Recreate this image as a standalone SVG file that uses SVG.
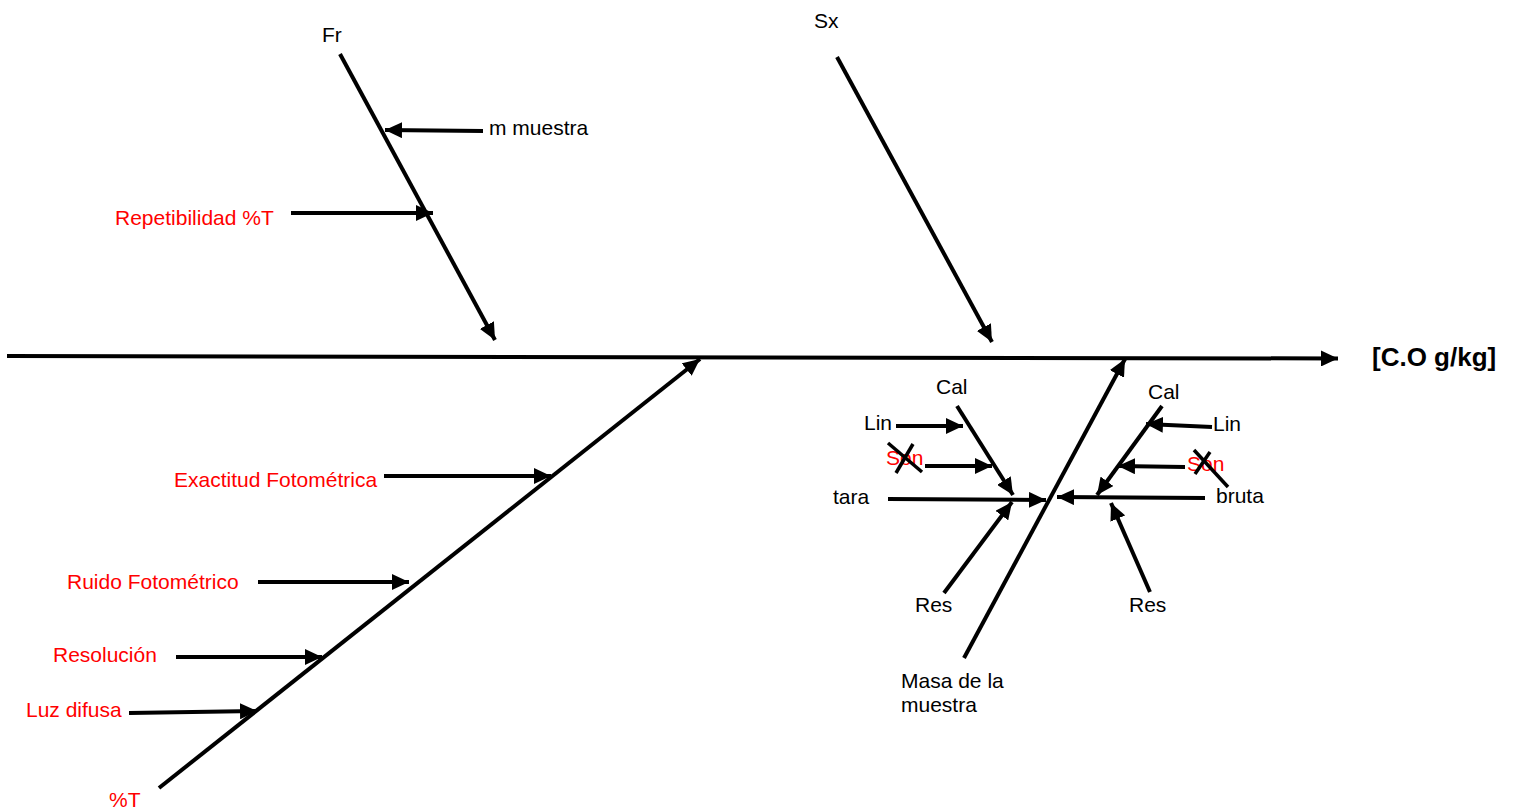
<svg xmlns="http://www.w3.org/2000/svg" width="1514" height="811" viewBox="0 0 1514 811">
<defs>
<marker id="ah" markerUnits="userSpaceOnUse" markerWidth="18" markerHeight="16" refX="17" refY="8" orient="auto">
<path d="M0,0 L17,8 L0,16 z" fill="#000"/>
</marker>
<style>
.t{font-family:"Liberation Sans",Arial,sans-serif;font-size:21px;fill:#000}
.r{fill:#ff0000}
.ttl{font-family:"Liberation Sans",Arial,sans-serif;font-size:26px;font-weight:bold;fill:#000}
.a{stroke:#000;stroke-width:4;fill:none;marker-end:url(#ah)}
.x{stroke:#000;stroke-width:3.5;fill:none}
</style>
</defs>
<rect width="1514" height="811" fill="#fff"/>
<g id="connectors">
<line class="a" x1="7" y1="356" x2="1338" y2="358.5"/>
<line class="a" x1="340" y1="54" x2="495" y2="340"/>
<line class="a" x1="483" y1="131" x2="385" y2="130"/>
<line class="a" x1="291" y1="213" x2="433" y2="213"/>
<line class="a" x1="837" y1="57" x2="992" y2="342"/>
<line class="a" x1="159" y1="788" x2="700" y2="359"/>
<line class="a" x1="384" y1="476" x2="551" y2="476"/>
<line class="a" x1="258" y1="582" x2="409" y2="582"/>
<line class="a" x1="176" y1="657" x2="322" y2="657"/>
<line class="a" x1="129" y1="713" x2="257" y2="711"/>
<line class="a" x1="964" y1="658" x2="1125" y2="359"/>
<line class="a" x1="888" y1="499" x2="1046" y2="500"/>
<line class="a" x1="1205" y1="498" x2="1057" y2="497"/>
<line class="a" x1="957" y1="406" x2="1013" y2="495"/>
<line class="a" x1="896" y1="426" x2="963" y2="426"/>
<line class="a" x1="925" y1="466" x2="992" y2="466"/>
<line class="a" x1="944" y1="593" x2="1012" y2="502"/>
<line class="a" x1="1162" y1="406" x2="1097" y2="495"/>
<line class="a" x1="1212" y1="427" x2="1146" y2="424"/>
<line class="a" x1="1185" y1="467" x2="1118" y2="466"/>
<line class="a" x1="1150" y1="592" x2="1111" y2="503"/>
</g>
<g id="effect"><text class="ttl" x="1372" y="366">[C.O g/kg]</text></g>
<g id="fr"><text class="t" x="322" y="42">Fr</text></g>
<g id="m-muestra"><text class="t" x="489" y="135">m muestra</text></g>
<g id="repetibilidad"><text class="t r" x="115" y="225">Repetibilidad %T</text></g>
<g id="sx"><text class="t" x="814" y="28">Sx</text></g>
<g id="pct-t"><text class="t r" x="109" y="807">%T</text></g>
<g id="exactitud"><text class="t r" x="174" y="487">Exactitud Fotométrica</text></g>
<g id="ruido"><text class="t r" x="67" y="589">Ruido Fotométrico</text></g>
<g id="resolucion"><text class="t r" x="53" y="662">Resolución</text></g>
<g id="luz"><text class="t r" x="26" y="717">Luz difusa</text></g>
<g id="masa"><text class="t" x="901" y="688">Masa de la</text><text class="t" x="901" y="712">muestra</text></g>
<g id="tara"><text class="t" x="833" y="504">tara</text></g>
<g id="bruta"><text class="t" x="1216" y="503">bruta</text></g>
<g id="cal-l"><text class="t" x="936" y="394">Cal</text></g>
<g id="lin-l"><text class="t" x="864" y="430">Lin</text></g>
<g id="son-l"><text class="t r" x="886" y="465">Son</text>
<line class="x" x1="888" y1="443" x2="922" y2="472"/><line class="x" x1="913" y1="444" x2="896" y2="473"/></g>
<g id="res-l"><text class="t" x="915" y="612">Res</text></g>
<g id="cal-r"><text class="t" x="1148" y="399">Cal</text></g>
<g id="lin-r"><text class="t" x="1213" y="431">Lin</text></g>
<g id="son-r"><text class="t r" x="1187" y="471">Son</text>
<line class="x" x1="1194" y1="450" x2="1228" y2="487"/><line class="x" x1="1210" y1="452" x2="1195" y2="474"/></g>
<g id="res-r"><text class="t" x="1129" y="612">Res</text></g>
</svg>
